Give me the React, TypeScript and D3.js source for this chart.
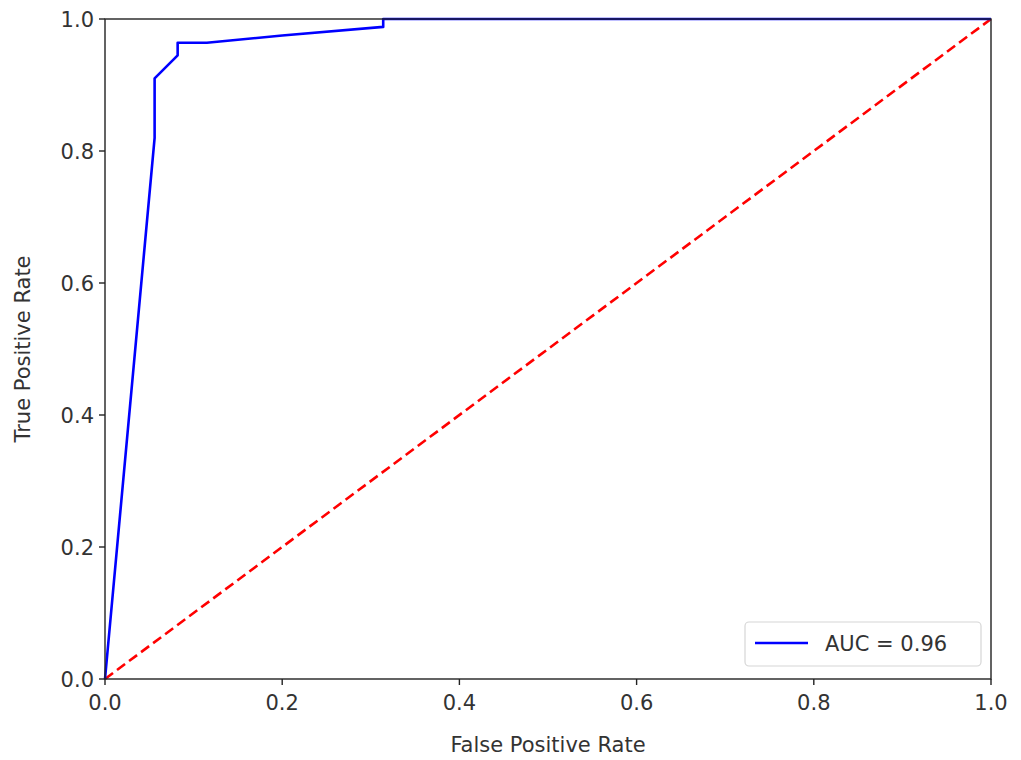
import React from 'react';
import * as d3 from 'd3';

// ROC curve
const fpr = [0, 0.056, 0.056, 0.082, 0.082, 0.115, 0.2, 0.314, 0.314, 1.0];
const tpr = [0, 0.82, 0.91, 0.945, 0.964, 0.964, 0.975, 0.988, 1.0, 1.0];
const diagonal = [0, 1];
const ticks = [0, 0.2, 0.4, 0.6, 0.8, 1.0];
const legendLabel = 'AUC = 0.96';

const width = 1021;
const height = 760;
const margin = { top: 19, right: 30, bottom: 81, left: 105 };
const font = 'DejaVu Sans, sans-serif';

export default function App() {
  const x = d3.scaleLinear().domain([0, 1]).range([margin.left, width - margin.right]);
  const y = d3.scaleLinear().domain([0, 1]).range([height - margin.bottom, margin.top]);

  const line = d3.line<[number, number]>()
    .x(d => x(d[0]))
    .y(d => y(d[1]));

  const rocPts: [number, number][] = fpr.map((f, i) => [f, tpr[i]]);
  const diagPts: [number, number][] = diagonal.map(v => [v, v]);

  const [x0, x1] = x.range();
  const [y0, y1] = y.range();

  const legX = 745;
  const legY = 622;

  return (
    <svg width={width} height={height} style={{ position: 'absolute', left: 0, top: 0, background: '#fff' }}>
      <path d={line(diagPts) || ''} fill="none" stroke="#ff0000" strokeWidth={2.6} strokeDasharray="10,5" />
      <path d={line(rocPts) || ''} fill="none" stroke="#0000ff" strokeWidth={2.6} strokeLinejoin="round" />

      {/* frame */}
      <rect x={x0} y={y1} width={x1 - x0} height={y0 - y1} fill="none" stroke="#222" strokeWidth={1.4} />

      {ticks.map(t => (
        <g key={'x' + t}>
          <line x1={x(t)} x2={x(t)} y1={y0} y2={y0 + 6} stroke="#222" strokeWidth={1.4} />
          <text x={x(t)} y={y0 + 31} textAnchor="middle" fontFamily={font} fontSize={21} fill="#333">
            {t.toFixed(1)}
          </text>
        </g>
      ))}
      {ticks.map(t => (
        <g key={'y' + t}>
          <line x1={x0 - 6} x2={x0} y1={y(t)} y2={y(t)} stroke="#222" strokeWidth={1.4} />
          <text x={x0 - 11} y={y(t) + 7.5} textAnchor="end" fontFamily={font} fontSize={21} fill="#333">
            {t.toFixed(1)}
          </text>
        </g>
      ))}

      <text x={(x0 + x1) / 2} y={752} textAnchor="middle" fontFamily={font} fontSize={21} fill="#333">
        False Positive Rate
      </text>
      <text transform={`translate(30, ${(y0 + y1) / 2}) rotate(-90)`} textAnchor="middle" fontFamily={font} fontSize={21} fill="#333">
        True Positive Rate
      </text>

      {/* legend */}
      <rect x={legX} y={legY} width={236} height={44} rx={4} fill="#fff" fillOpacity={0.8} stroke="#d6d6d6" strokeWidth={1.2} />
      <line x1={legX + 10} x2={legX + 63} y1={legY + 21} y2={legY + 21} stroke="#0000ff" strokeWidth={2.6} />
      <text x={legX + 80} y={legY + 29} fontFamily={font} fontSize={21} fill="#333">
        {legendLabel}
      </text>
    </svg>
  );
}
